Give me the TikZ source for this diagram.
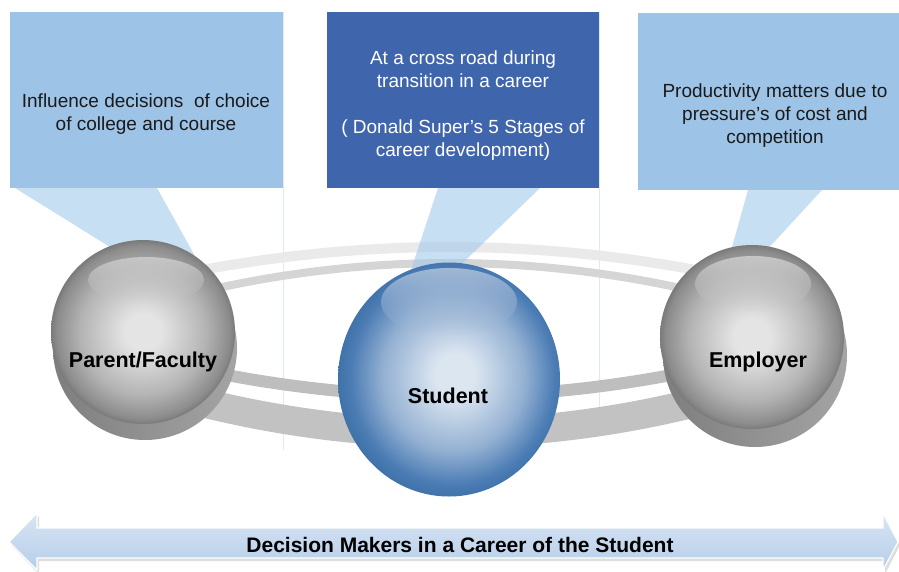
\documentclass[tikz,border=0pt]{standalone}
\usepackage{fontspec}
\setmainfont{Liberation Sans}
\usetikzlibrary{fadings}
\definecolor{boxlight}{HTML}{9DC3E6}
\definecolor{boxdark}{HTML}{3F65AD}
\definecolor{pointer}{HTML}{A3CAEB}
\definecolor{ringA}{HTML}{EAEAEA}
\definecolor{ringB}{HTML}{D5D5D5}
\definecolor{ringC}{HTML}{BEBEBE}
\definecolor{ringD}{HTML}{C2C2C2}
\definecolor{gsC}{HTML}{E4E4E4}
\definecolor{gsM}{HTML}{B4B4B4}
\definecolor{gsE}{HTML}{8C8C8C}
\definecolor{gsR}{HTML}{7A7A7A}
\definecolor{gsH}{HTML}{C6C6C6}
\definecolor{gsL}{HTML}{7E7E7E}
\definecolor{gsL2}{HTML}{A4A4A4}
\definecolor{bsC}{HTML}{DCE6F1}
\definecolor{bsM}{HTML}{93B0D2}
\definecolor{bsE}{HTML}{4B7CB4}
\definecolor{bsR}{HTML}{3D70A7}
\definecolor{bsH}{HTML}{A0B8D6}
\definecolor{guide}{HTML}{DDEAF6}
\definecolor{arrTop}{HTML}{D8E5F4}
\definecolor{arrBot}{HTML}{B6CDE9}
\definecolor{arrShadow}{HTML}{C8C8C8}
\definecolor{txt}{HTML}{1A1A1A}
\pgfdeclareradialshading{greysphere}{\pgfpoint{0bp}{0bp}}{color(0bp)=(gsC); color(5bp)=(gsC); color(17bp)=(gsM); color(23.5bp)=(gsE); color(25bp)=(gsR); color(50bp)=(gsR)}
\pgfdeclareradialshading{bluesphere}{\pgfpoint{1.5bp}{1bp}}{color(0bp)=(bsC); color(4.5bp)=(bsC); color(16bp)=(bsM); color(23bp)=(bsE); color(26.5bp)=(bsR); color(50bp)=(bsR)}
\begin{document}
\begin{tikzpicture}[x=1pt,y=-1pt,
  lightbox/.style={rectangle, fill=boxlight, draw=none, inner sep=0pt},
  darkbox/.style={rectangle, fill=boxdark, draw=none, inner sep=0pt},
  calltext/.style={align=center, inner sep=0pt, font=\fontsize{19}{23}\selectfont},
  spheretext/.style={anchor=base, inner sep=0pt, font=\bfseries\fontsize{21.5}{26}\selectfont, text=black},
  pointerfill/.style={fill=pointer, opacity=0.6},
  guideline/.style={draw=guide, line width=0.8pt}
]
\useasboundingbox (0,0) rectangle (899,571);
\fill[white] (0,0) rectangle (899,571);

% faint guide lines
\coordinate (gA1) at (283,12); \coordinate (gA2) at (283,450);
\coordinate (gB1) at (599,12); \coordinate (gB2) at (599,410);
\draw[guideline] (gA1) -- (gA2);
\draw[guideline] (gB1) -- (gB2);

% boxes
\node[lightbox, minimum width=273pt, minimum height=176pt] (boxL) at (146.5,100) {};
\node[darkbox, minimum width=272pt, minimum height=176pt] (boxC) at (463,100) {};
\node[lightbox, minimum width=261pt, minimum height=177pt] (boxR) at (768.5,101.5) {};

% rings (behind spheres)
\draw[ringA, line width=10pt] (149,281) .. controls (349,235.7) and (549,235.7) .. (749,281);
\draw[ringB, line width=8pt] (149,305) .. controls (349,249) and (549,249) .. (749,305);
\draw[ringC, line width=12pt] (149,357.75) .. controls (349,408.75) and (549,408.75) .. (749,357.75);
\draw[ringD, line width=29pt] (149,388) .. controls (349,448) and (549,448) .. (749,388);

% callout pointers
\fill[pointerfill] (15,188) -- (157,188) -- (200,265) -- (139,265) -- cycle;
\fill[pointerfill] (438,188) -- (540,188) -- (440,285) -- (406,285) -- cycle;
\fill[pointerfill] (748,190) -- (822,190) -- (753,265) -- (727,265) -- cycle;

% left sphere
\shade[left color=gsL, right color=gsL2] (145,348) circle[radius=92pt];
\shade[shading=greysphere] (143,332) circle[radius=92pt];
\fill[gsH, path fading=south] (146,280) ellipse[x radius=58pt, y radius=23pt];
% centre sphere
\shade[shading=bluesphere] (449,379.5) ellipse[x radius=111pt, y radius=117pt];
\fill[bsH, path fading=south] (449,302) ellipse[x radius=68pt, y radius=34pt];
% right sphere
\shade[left color=gsL, right color=gsL2] (755,355) circle[radius=92pt];
\shade[shading=greysphere] (752,337) circle[radius=92pt];
\fill[gsH, path fading=south] (753,284) ellipse[x radius=58pt, y radius=28pt];

% sphere labels
\node[spheretext] (lblL) at (143,367) {Parent/Faculty};
\node[spheretext] (lblC) at (448,403) {Student};
\node[spheretext] (lblR) at (758,367) {Employer};

% callout texts
\node[calltext, text=txt] (txtL) at (146,113.6) {Influence decisions\ \ of choice\\of college and course};
\node[calltext, text=white] (txtC) at (463,106) {At a cross road during\\transition in a career\\[23pt]( Donald Super’s 5 Stages of\\career development)};
\node[calltext, text=txt] (txtR) at (775,116) {Productivity matters due to\\pressure’s of cost and\\competition};

% bottom double arrow
\fill[arrShadow, opacity=0.6] (11,545) -- (39,516) -- (39,531) -- (885,531) -- (885,516) -- (900,545) -- (885,574) -- (885,561) -- (39,561) -- (39,574) -- cycle;
\shade[top color=arrTop, bottom color=arrBot, draw=white, line width=1.2pt]
  (9,542) -- (37,513) -- (37,528) -- (883,528) -- (883,513) -- (898,542) -- (883,570) -- (883,558) -- (37,558) -- (37,570) -- cycle;
\node[anchor=base, inner sep=0pt, font=\bfseries\fontsize{21}{25}\selectfont, text=black] (arrtxt) at (460,552) {Decision Makers in a Career of the Student};
\end{tikzpicture}
\end{document}
